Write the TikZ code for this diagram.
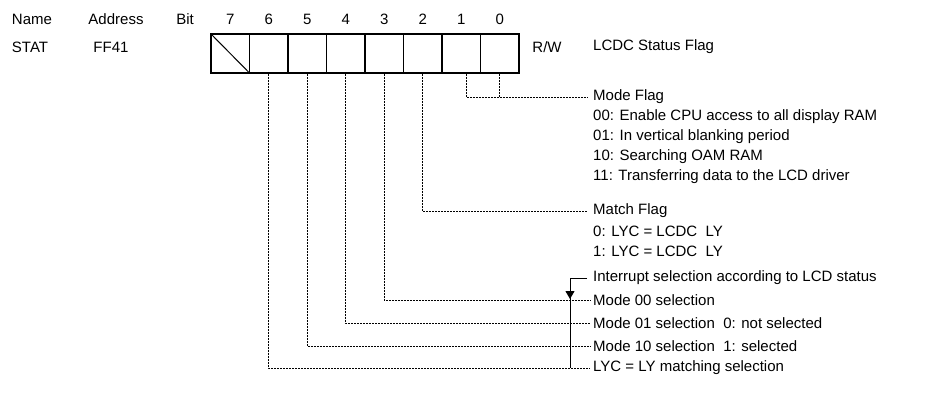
\documentclass[tikz,border=0pt]{standalone}
\usepackage{fontspec}
\setmainfont{Liberation Sans}
\usetikzlibrary{arrows.meta}
\tikzset{
	cellbox/.style={draw, line width=1.2pt, minimum width=38.5pt, minimum height=39pt, inner sep=0pt},
	plain/.style={inner sep=0pt},
	flagtext/.style={anchor=west, inner sep=0pt, xshift=5pt},
	dotline/.style={line width=0.9pt, dash pattern=on 2pt off 1pt},
	bracket/.style={line width=1pt}
}

\begin{document}
\begin{tikzpicture}[x=1pt, y=-1pt, font=\fontsize{15}{18}\selectfont]
	\useasboundingbox (0,0) rectangle (928,407);
	\node[plain] (name) at (32,19) {Name};
	\node[plain] (addr) at (116,19) {Address};
	\node[plain] (bit) at (185,19) {Bit};
	\node[plain] (stat) at (30,47) {STAT};
	\node[plain] (ff41) at (111,47) {FF41};
	\foreach \b [count=\i from 0] in {7,...,0}{
		\node[cellbox] (cell\b) at (230.25+38.5*\i, 53.5) {};
		\node[plain] (bit\b) at (cell\b |- 0,19) {\b};
	}
	\draw[line width=1pt] (cell7.north west) -- (cell7.south east);
	\node[plain] (rw) at (547,47) {R/W};
	\node[flagtext] (title) at (588,47) {LCDC Status Flag};
	% mode flag
	\node[flagtext] (modeflag) at (588,97) {Mode Flag};
	\node[flagtext] (mode00) at (588,117) {00: Enable CPU access to all display RAM};
	\node[flagtext] (mode01) at (588,137) {01: In vertical blanking period};
	\node[flagtext] (mode10) at (588,157) {10: Searching OAM RAM};
	\node[flagtext] (mode11) at (588,177) {11: Transferring data to the LCD driver};
	% match flag
	\node[flagtext] (match) at (588,211) {Match Flag};
	\node[flagtext] (match0) at (588,231) {0: LYC = LCDC\ \ LY};
	\node[flagtext] (match1) at (588,251) {1: LYC = LCDC\ \ LY};
	% interrupt selection
	\node[flagtext] (intr) at (588,278) {Interrupt selection according to LCD status};
	\node[flagtext] (sel00) at (588,300) {Mode 00 selection};
	\node[flagtext] (sel01) at (588,323) {Mode 01 selection\ \ 0: not selected};
	\node[flagtext] (sel10) at (588,346) {Mode 10 selection\ \ 1: selected};
	\node[flagtext] (lycsel) at (588,368) {LYC = LY matching selection};
	\draw[dotline] ([xshift=5pt]cell1.south) |- ([xshift=-5pt]modeflag.west);
	\draw[dotline] (cell0.south) -- (cell0.south |- modeflag.west);
	\draw[dotline] (cell2.south) |- ([xshift=-5pt]match.west);
	\draw[dotline] (cell3.south) |- ([xshift=-3pt]sel00.west);
	\draw[dotline] (cell4.south) |- ([xshift=-3pt]sel01.west);
	\draw[dotline] (cell5.south) |- ([xshift=-3pt]sel10.west);
	\draw[dotline] (cell6.south) |- ([xshift=-3pt]lycsel.west);
	\coordinate (intbot) at (570,368);
	\coordinate (arrtop) at (570,286);
	\coordinate (arrtip) at (570,299);
	\draw[bracket] ([xshift=-6pt]intr.west) -| (intbot);
	\draw[bracket, -{Triangle[length=8pt, width=9pt]}] (arrtop) -- (arrtip);
\end{tikzpicture}
\end{document}
